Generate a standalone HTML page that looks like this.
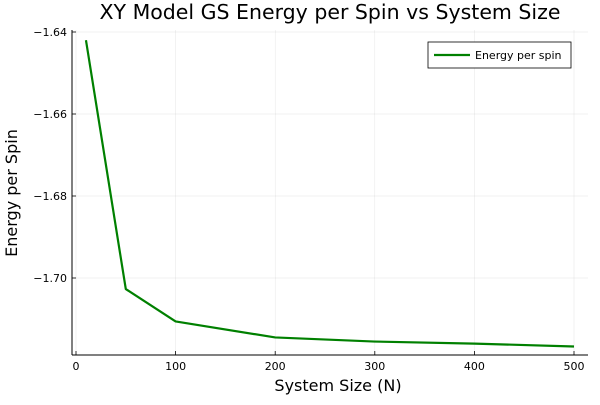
<!DOCTYPE html>
<html><head><meta charset="utf-8"><style>
body{margin:0;background:#fff;}
text{font-family:"DejaVu Sans","Liberation Sans",sans-serif;}
</style></head><body>
<svg id="chart" width="600" height="400" xmlns="http://www.w3.org/2000/svg">
<rect width="600" height="400" fill="#fff"/>
<text x="330" y="19" font-size="20.5" text-anchor="middle">XY Model GS Energy per Spin vs System Size</text>
<g id="grid"></g>
<g id="axes"></g>
<g id="series"></g>
<text x="338" y="391" font-size="16" text-anchor="middle">System Size (N)</text>
<text transform="translate(17,193) rotate(-90)" font-size="16" text-anchor="middle">Energy per Spin</text>
<g>
<rect x="428" y="42" width="143" height="26" fill="#fff" stroke="#000" stroke-width="0.8"/>
<line x1="434" y1="55" x2="470" y2="55" stroke="#008000" stroke-width="2.2"/>
<text x="475" y="59" font-size="11">Energy per spin</text>
</g>
</svg>
<script>
const sizes=[10,50,100,200,300,400,500];
const energies=[-1.6420,-1.7027,-1.7106,-1.7145,-1.7155,-1.7160,-1.7167];
const xTicks=[0,100,200,300,400,500];
const yTicks=[-1.64,-1.66,-1.68,-1.70];
const yTickLabels=["−1.64","−1.66","−1.68","−1.70"];
const L=72,R=588,T=30,B=355;
const xs=v=>76+(v-0)*(574-76)/500;
const ys=v=>32+(-1.64-v)*4100;
const NS="http://www.w3.org/2000/svg";
function mk(tag,attrs,parent){const e=document.createElementNS(NS,tag);for(const k in attrs)e.setAttribute(k,attrs[k]);parent.appendChild(e);return e;}
const grid=document.getElementById('grid'),axes=document.getElementById('axes'),ser=document.getElementById('series');
xTicks.forEach(t=>{
 const g=mk('line',{x1:xs(t),x2:xs(t),y1:T,y2:B,stroke:'#000','stroke-opacity':0.1,'stroke-width':0.5},grid);
 
 
 const tk=mk('line',{x1:xs(t),x2:xs(t),y1:B,y2:B-4,stroke:'#000','stroke-width':0.8},axes);
 
 
 const tx=mk('text',{x:xs(t),y:B+15,'font-size':11,'text-anchor':'middle'},axes);
 tx.textContent=t;
 
 
});
yTicks.forEach((t,i)=>{
 const g=mk('line',{x1:L,x2:R,y1:ys(t),y2:ys(t),stroke:'#000','stroke-opacity':0.1,'stroke-width':0.5},grid);
 
 
 const tk=mk('line',{x1:L,x2:L+4,y1:ys(t),y2:ys(t),stroke:'#000','stroke-width':0.8},axes);
 
 
 const tx=mk('text',{x:L-5,y:ys(t)+4,'font-size':11,'text-anchor':'end'},axes);
 tx.textContent=yTickLabels[i];
 
 
});
const xa=mk('line',{x1:L,x2:R,y1:B,y2:B,stroke:'#000','stroke-width':1},axes);


const ya=mk('line',{x1:L,x2:L,y1:T,y2:B,stroke:'#000','stroke-width':1},axes);


const pts=sizes.map((s,i)=>xs(s)+','+ys(energies[i])).join(' ');
const pl=mk('polyline',{points:pts,fill:'none',stroke:'#008000','stroke-width':2.2,'stroke-linejoin':'round'},ser);


</script>
</body></html>
